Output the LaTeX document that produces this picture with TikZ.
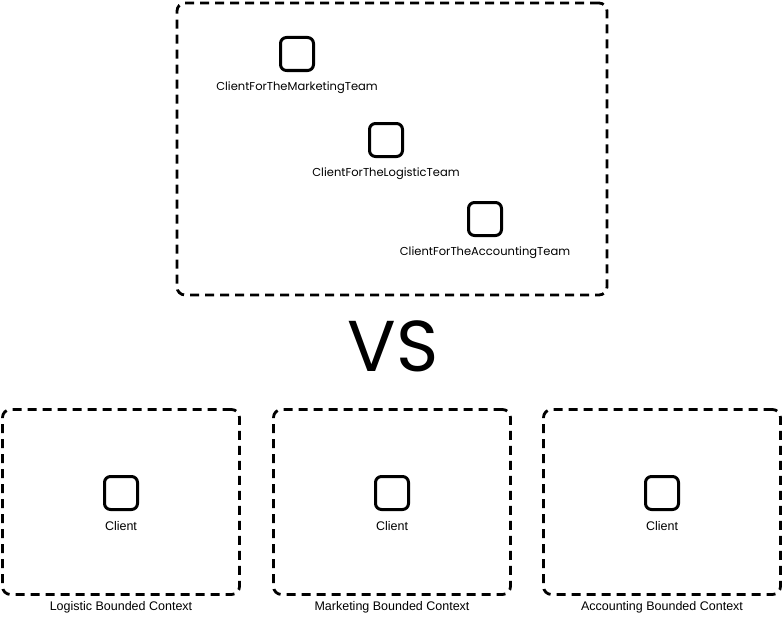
\documentclass[tikz,border=0pt]{standalone}
\usepackage{fontspec}
\setmainfont{Liberation Sans}
\newfontfamily\roundfont{Poppins}
\usetikzlibrary{positioning}
\begin{document}
\begin{tikzpicture}[x=1pt,y=-1pt,line join=round,
  ctx/.style={draw,line width=2.8pt,dash pattern=on 9pt off 6pt,rounded corners=8pt,inner sep=0pt},
  obj/.style={draw,line width=3pt,rounded corners=6pt,minimum size=33pt,inner sep=0pt},
  lbl/.style={font=\fontsize{12.5}{14}\selectfont,inner sep=1pt},
  rlbl/.style={font=\roundfont\fontsize{11.5}{13}\selectfont,inner sep=1pt}]
  \useasboundingbox (0,0) rectangle (784,618);
  % one client for every team
  \node[ctx,minimum width=430pt,minimum height=292pt] (all) at (392,149) {};
  \foreach \n/\x/\y/\t in {mkt/297/54/Marketing,log/386/140/Logistic,acc/485/219/Accounting}{
      \node[obj] (\n) at (\x,\y) {};
      \node[rlbl,below=9pt of \n] (\n-l) {ClientForThe\t Team};
  }
  \node[font=\roundfont\fontsize{72}{76}\selectfont] (vs) at (393,346) {VS};
  % one client per bounded context
  \foreach \n/\x/\t in {lg/121/Logistic,mk/392/Marketing,ac/662/Accounting}{
      \node[ctx,minimum width=237pt,minimum height=185pt] (\n) at (\x,502) {};
      \node[obj] (\n-c) at (\x,493) {};
      \node[lbl,below=9pt of \n-c] (\n-cl) {Client};
      \node[lbl,below=4pt of \n] (\n-l) {\t\ Bounded Context};
  }
\end{tikzpicture}
\end{document}
